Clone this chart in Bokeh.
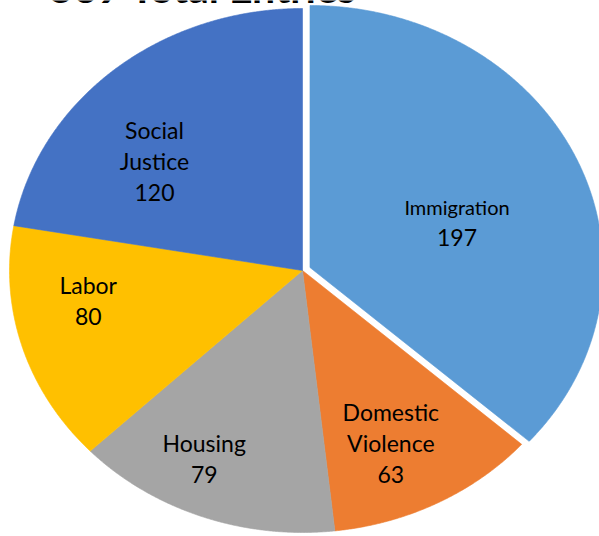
import numpy as np
from bokeh.plotting import figure
from bokeh.models import ColumnDataSource, Range1d
from bokeh.embed import file_html
from bokeh.resources import INLINE
from bokeh.core.properties import value

# ---------------- data ----------------
categories = ["Immigration", "Domestic Violence", "Housing", "Labor", "Social Justice"]
counts = [197, 63, 79, 80, 120]
label_lines = [["Immigration"], ["Domestic", "Violence"], ["Housing"], ["Labor"], ["Social", "Justice"]]
title_text = "539 Total Entries"

# ---------------- style ----------------
colors = ["#5B9BD5", "#ED7D31", "#A5A5A5", "#FFC000", "#4472C4"]
explode = [0.028, 0.0, 0.0, 0.0, 0.0]
# label block nudges in px (dx right, dy down) from the mid-angle point at 0.7 radius
label_nudge = [(-40, 31), (-6, 11), (-28, 17), (-18, -22), (-16, 32)]
name_sizes = [20, 23, 23, 23, 23]
value_size = 23
line_gap = 31
cap_ratio = 0.717
baseline_fix = 0.4     # renderer places "alphabetic" text ~0.4 em lower than asked
font = "Lato"

W, H = 599, 536
CX, CY = 302, 270      # pie centre, canvas px
RX, RY = 293, 262      # pie radii, px (pie is stretched horizontally)

p = figure(width=W, height=H, output_backend="svg", toolbar_location=None,
           x_range=Range1d(-CX / RX, (W - CX) / RX),
           y_range=Range1d(-(H - CY) / RY, CY / RY),
           min_border=0, x_axis_location=None, y_axis_location=None,
           background_fill_color="white", border_fill_color="white")
p.grid.visible = False
p.outline_line_color = None

total = float(sum(counts))
xs, ys = [], []
mids = []
start = np.pi / 2
for c, e in zip(counts, explode):
    span = 2 * np.pi * c / total
    end = start - span
    mid = (start + end) / 2
    mids.append(mid)
    ox, oy = e * np.cos(mid), e * np.sin(mid)
    n = max(int(span / 0.005), 10)
    th = np.linspace(start, end, n)
    xs.append(list(np.concatenate([[ox], ox + np.cos(th)])))
    ys.append(list(np.concatenate([[oy], oy + np.sin(th)])))
    start = end

p.patches(xs="xs", ys="ys", fill_color="color", line_color="color", line_width=0.6,
          source=ColumnDataSource(dict(xs=xs, ys=ys, color=colors)))

# labels
lx, ly, lt, ls = [], [], [], []
for i, (c, e) in enumerate(zip(counts, explode)):
    mid = mids[i]
    bx = CX + RX * ((e + 0.7) * np.cos(mid))
    by = CY - RY * ((e + 0.7) * np.sin(mid))
    dx, dy = label_nudge[i]
    cx, cy = bx + dx, by + dy
    lines = label_lines[i] + [str(c)]
    sizes = [name_sizes[i]] * len(label_lines[i]) + [value_size]
    nl = len(lines)
    for j, (t, s) in enumerate(zip(lines, sizes)):
        yc = cy + (j - (nl - 1) / 2) * line_gap
        base = yc + cap_ratio * s / 2 - baseline_fix * s
        lx.append((cx - CX) / RX)
        ly.append((CY - base) / RY)
        lt.append(t)
        ls.append(f"{s}px")

p.text(x="x", y="y", text="text", text_font_size="size",
       source=ColumnDataSource(dict(x=lx, y=ly, text=lt, size=ls)),
       text_align="center", text_baseline="alphabetic",
       text_font=value(font), text_color="#000000")

# title (mostly cut off above the top edge, as in the reference)
title_size = 41
p.text(x=[(203 - CX) / RX], y=[(CY - (3.5 - baseline_fix * title_size)) / RY], text=[title_text],
       text_align="center", text_baseline="alphabetic",
       text_font=value(font), text_font_style="bold", text_font_size=f"{title_size}px",
       text_color="#000000")

open("out.html", "w").write(file_html(p, INLINE))
